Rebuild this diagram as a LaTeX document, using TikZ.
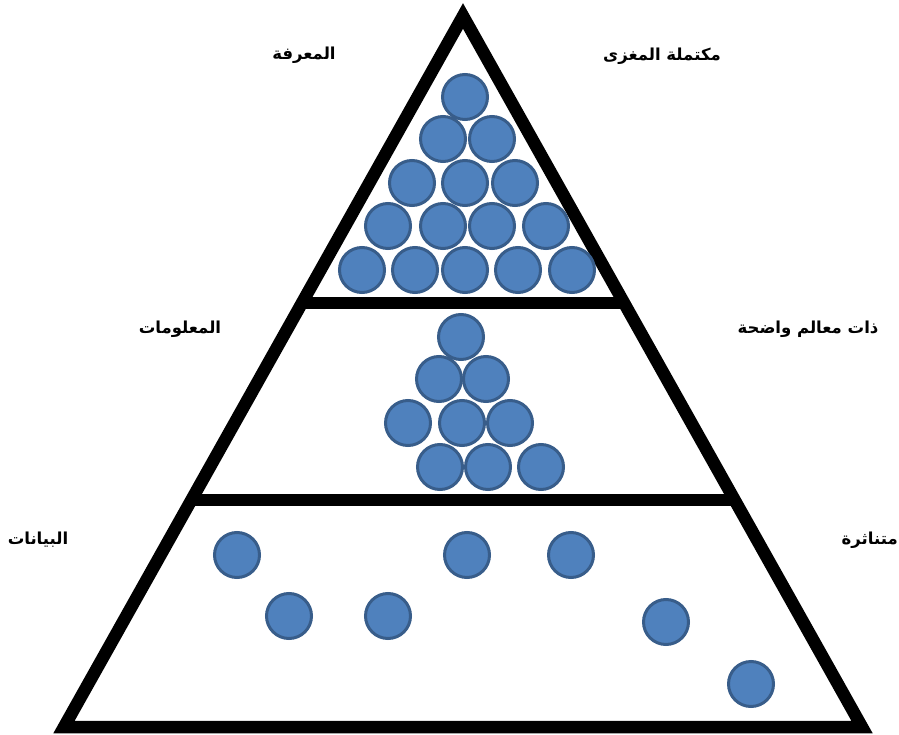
\documentclass[tikz,border=0pt]{standalone}
\usepackage{fontspec}
\usetikzlibrary{calc}
\newfontfamily\arabicfont[Script=Arabic]{DejaVu Sans}
\TeXXeTstate=1
\definecolor{ballfill}{HTML}{4F81BD}
\definecolor{ballrim}{HTML}{385D8A}
\begin{document}
\begin{tikzpicture}[x=1pt,y=-1pt,
  ball/.style={circle, draw=ballrim, fill=ballfill, line width=3pt, minimum size=45pt, inner sep=0pt},
  lbl/.style={font=\arabicfont\bfseries\fontsize{16.5}{19}\selectfont, inner sep=0pt, text=black},
  frame/.style={line width=12.5pt, line join=miter, draw=black}]
\useasboundingbox (0,0) rectangle (899,735);
\fill[white] (0,0) rectangle (899,735);

% pyramid outline
\coordinate (apex) at (463,16);
\coordinate (bl) at (64,727);
\coordinate (br) at (862,727);
\draw[frame] (apex) -- (bl) -- (br) -- cycle;

% level separators
\coordinate (s1l) at ($(apex)!0.4037!(bl)$);
\coordinate (s1r) at ($(apex)!0.4037!(br)$);
\coordinate (s2l) at ($(apex)!0.6807!(bl)$);
\coordinate (s2r) at ($(apex)!0.6807!(br)$);
\draw[frame] (s1l) -- (s1r);
\draw[frame] (s2l) -- (s2r);

% top level: tightly packed
\foreach \p [count=\i] in {(465,97),
  (443,139),(492,139),
  (412,183),(465,183),(515,183),
  (388,226),(443,226),(492,226),(546,226),
  (362,270),(415,270),(465,270),(518,270),(572,270)}
  \node[ball] (k\i) at \p {};

% middle level
\foreach \p [count=\i] in {(461,337),
  (439,379),(486,379),
  (408,423),(462,423),(510,423),
  (440,467),(488,467),(541,467)}
  \node[ball] (m\i) at \p {};

% bottom level: scattered
\foreach \p [count=\i] in {(237,555),(467,555),(571,555),
  (289,616),(388,616),(666,622),(751,684)}
  \node[ball] (d\i) at \p {};

% labels
\node[lbl] (knowledge) at (304,55) {\beginR المعرفة\endR};
\node[lbl] (meaningful) at (662,56) {\beginR مكتملة المغزى\endR};
\node[lbl] (information) at (180,329) {\beginR المعلومات\endR};
\node[lbl] (defined) at (808,329) {\beginR ذات معالم واضحة\endR};
\node[lbl] (data) at (38,540) {\beginR البيانات\endR};
\node[lbl, anchor=east] (scattered) at (898,540) {\beginR متناثرة\endR};
\end{tikzpicture}
\end{document}
